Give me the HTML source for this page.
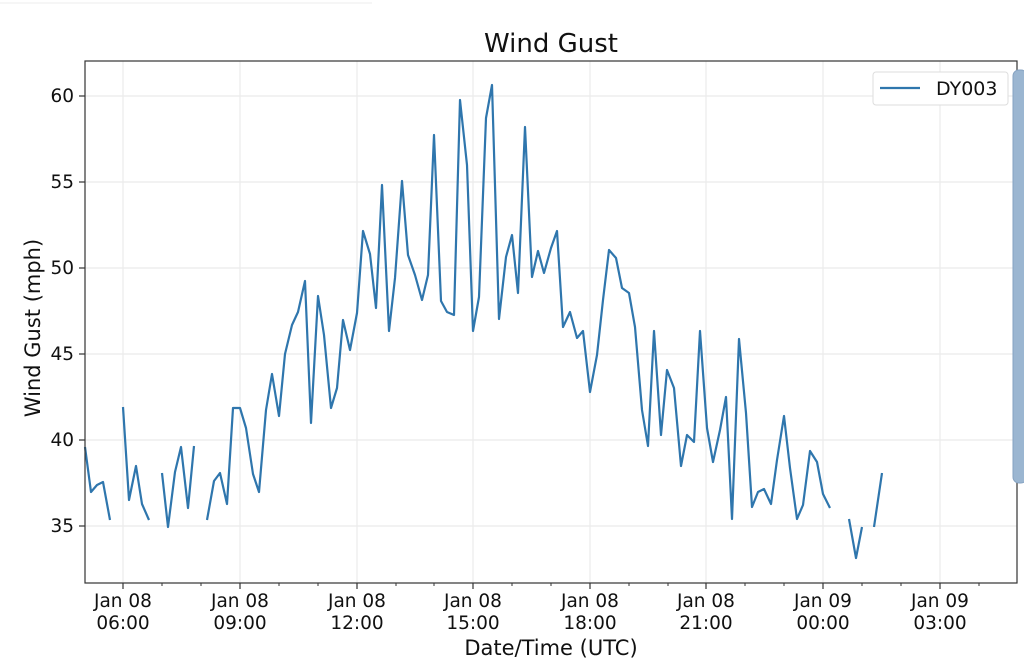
<!DOCTYPE html>
<html><head><meta charset="utf-8"><style>
html,body{margin:0;padding:0;background:#fff;}
svg{display:block;font-family:"DejaVu Sans","Liberation Sans",sans-serif;}
</style></head><body>
<svg width="1024" height="668" viewBox="0 0 1024 668" xmlns="http://www.w3.org/2000/svg">
<rect width="1024" height="668" fill="#fff"/>
<line x1="0" y1="3" x2="372" y2="3" stroke="#eee" stroke-width="1"/>
<text x="551" y="52" font-size="26" text-anchor="middle" fill="#111">Wind Gust</text>
<g stroke="#ebebeb" stroke-width="1.2">
<line x1="123" y1="61" x2="123" y2="583"/><line x1="240" y1="61" x2="240" y2="583"/>
<line x1="357" y1="61" x2="357" y2="583"/><line x1="473" y1="61" x2="473" y2="583"/>
<line x1="590" y1="61" x2="590" y2="583"/><line x1="706" y1="61" x2="706" y2="583"/>
<line x1="823" y1="61" x2="823" y2="583"/><line x1="940" y1="61" x2="940" y2="583"/>
<line x1="85" y1="96" x2="1017" y2="96"/><line x1="85" y1="182" x2="1017" y2="182"/>
<line x1="85" y1="268" x2="1017" y2="268"/><line x1="85" y1="354" x2="1017" y2="354"/>
<line x1="85" y1="440" x2="1017" y2="440"/><line x1="85" y1="526" x2="1017" y2="526"/>
</g>
<g fill="none" stroke="#2f76ad" stroke-width="2.2" stroke-linejoin="round">
<polyline points="85,447 91,492 97,485 103,482 110,520"/>
<polyline points="123,407 129,500 136,466 142,504 149,520"/>
<polyline points="162,473 168,527 175,472 181,447 188,508 194,446"/>
<polyline points="207,520 214,481 220,473 227,504 233,408 240,408 246,428 253,474 259,492 266,410 272,374 279,416 285,354 292,325 298,312 305,281 311,423 318,296 324,335 331,408 337,388 343,320 350,350 357,313 363,231 370,254 376,308 382,185 389,331 395,278 402,181 408,255 415,275 422,300 428,275 434,135 441,301 447,312 454,315 460,100 467,165 473,331 479,297 486,118 492,85 499,319 506,257 512,235 518,293 525,127 532,277 538,251 544,273 551,248 557,231 563,327 570,312 577,338 583,331 590,392 597,355 603,300 609,250 616,258 622,288 629,293 635,327 642,410 648,446 654,331 661,435 667,370 674,388 681,466 687,435 694,442 700,331 707,428 713,462 720,430 726,397 732,519 739,339 746,413 752,507 758,492 764,489 771,504 777,460 784,416 790,468 797,519 803,505 810,451 817,462 823,494 830,508"/>
<polyline points="849,519 856,558 862,527"/>
<polyline points="874,527 882,473"/>
</g>
<rect x="85" y="61" width="932" height="522" fill="none" stroke="#333" stroke-width="1.2"/>
<g stroke="#333" stroke-width="1.2">
<line x1="79" y1="96" x2="85" y2="96"/><line x1="79" y1="182" x2="85" y2="182"/><line x1="79" y1="268" x2="85" y2="268"/>
<line x1="79" y1="354" x2="85" y2="354"/><line x1="79" y1="440" x2="85" y2="440"/><line x1="79" y1="526" x2="85" y2="526"/>
<line x1="123" y1="583" x2="123" y2="589"/><line x1="240" y1="583" x2="240" y2="589"/><line x1="357" y1="583" x2="357" y2="589"/>
<line x1="473" y1="583" x2="473" y2="589"/><line x1="590" y1="583" x2="590" y2="589"/><line x1="706" y1="583" x2="706" y2="589"/>
<line x1="823" y1="583" x2="823" y2="589"/><line x1="940" y1="583" x2="940" y2="589"/>
</g>
<g stroke="#333" stroke-width="1">
<line x1="162" y1="583" x2="162" y2="586"/><line x1="201" y1="583" x2="201" y2="586"/><line x1="279" y1="583" x2="279" y2="586"/>
<line x1="318" y1="583" x2="318" y2="586"/><line x1="396" y1="583" x2="396" y2="586"/><line x1="434" y1="583" x2="434" y2="586"/>
<line x1="512" y1="583" x2="512" y2="586"/><line x1="551" y1="583" x2="551" y2="586"/><line x1="629" y1="583" x2="629" y2="586"/>
<line x1="668" y1="583" x2="668" y2="586"/><line x1="745" y1="583" x2="745" y2="586"/><line x1="784" y1="583" x2="784" y2="586"/>
<line x1="862" y1="583" x2="862" y2="586"/><line x1="901" y1="583" x2="901" y2="586"/><line x1="979" y1="583" x2="979" y2="586"/>
</g>
<g font-size="18.5" fill="#111" text-anchor="end">
<text x="74" y="102">60</text><text x="74" y="188">55</text><text x="74" y="274">50</text>
<text x="74" y="360">45</text><text x="74" y="446">40</text><text x="74" y="532">35</text>
</g>
<g font-size="18.5" fill="#111" text-anchor="middle">
<text x="123" y="607">Jan 08</text><text x="123" y="629">06:00</text>
<text x="240" y="607">Jan 08</text><text x="240" y="629">09:00</text>
<text x="357" y="607">Jan 08</text><text x="357" y="629">12:00</text>
<text x="473" y="607">Jan 08</text><text x="473" y="629">15:00</text>
<text x="590" y="607">Jan 08</text><text x="590" y="629">18:00</text>
<text x="706" y="607">Jan 08</text><text x="706" y="629">21:00</text>
<text x="823" y="607">Jan 09</text><text x="823" y="629">00:00</text>
<text x="940" y="607">Jan 09</text><text x="940" y="629">03:00</text>
</g>
<text x="551" y="655" font-size="21" text-anchor="middle" fill="#111">Date/Time (UTC)</text>
<text transform="translate(40,328) rotate(-90)" font-size="21" text-anchor="middle" fill="#111">Wind Gust (mph)</text>
<rect x="873" y="72" width="135" height="33" rx="3" fill="#fff" stroke="#ddd" stroke-width="1"/>
<line x1="880" y1="88" x2="920" y2="88" stroke="#2f76ad" stroke-width="2.2"/>
<text x="936" y="95" font-size="19" fill="#111">DY003</text>
<rect x="1013" y="70" width="14" height="413" rx="6" fill="#9bb6d1" stroke="#86a3c2" stroke-width="1"/>
</svg>
</body></html>
